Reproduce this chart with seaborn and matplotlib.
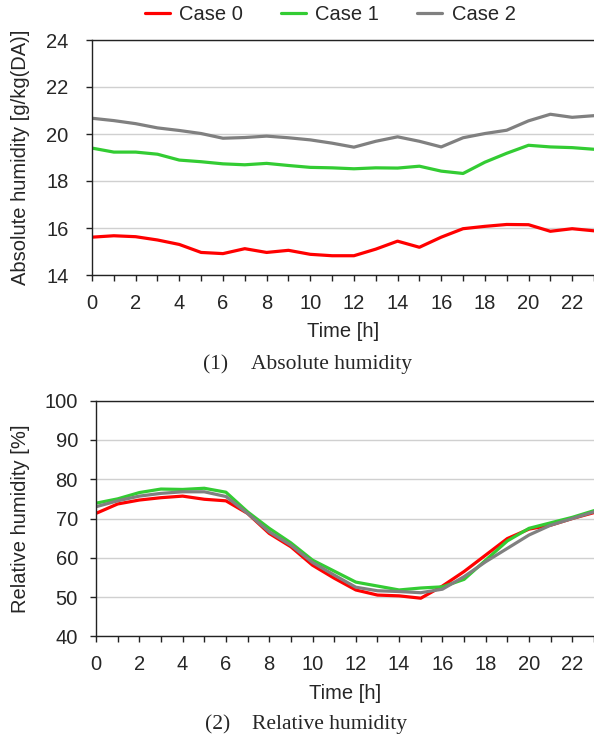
import numpy as np
import pandas as pd
import matplotlib
matplotlib.use("Agg")
import matplotlib.pyplot as plt
import seaborn as sns

hours = list(range(24))
cases = ["Case 0", "Case 1", "Case 2"]
colors = ["#FF0000", "#33CC33", "#808080"]

abs_case0 = [15.61, 15.67, 15.63, 15.49, 15.30, 14.96, 14.91, 15.12, 14.96, 15.05, 14.88, 14.82,
             14.82, 15.10, 15.44, 15.18, 15.61, 15.97, 16.07, 16.15, 16.14, 15.86, 15.97, 15.88]
abs_case1 = [19.40, 19.23, 19.23, 19.14, 18.89, 18.82, 18.73, 18.69, 18.75, 18.66, 18.58, 18.56,
             18.52, 18.56, 18.55, 18.63, 18.42, 18.32, 18.80, 19.18, 19.52, 19.45, 19.42, 19.35]
abs_case2 = [20.67, 20.57, 20.44, 20.26, 20.15, 20.02, 19.82, 19.85, 19.91, 19.84, 19.75, 19.61,
             19.44, 19.69, 19.88, 19.69, 19.45, 19.84, 20.02, 20.16, 20.56, 20.84, 20.71, 20.78]

rh_case0 = [71.3, 73.7, 74.7, 75.3, 75.7, 74.9, 74.5, 71.3, 66.2, 62.8, 58.1, 54.8,
            51.8, 50.5, 50.3, 49.7, 52.8, 56.5, 60.7, 64.9, 67.3, 68.3, 70.0, 71.5]
rh_case1 = [73.9, 75.0, 76.6, 77.5, 77.4, 77.7, 76.7, 71.7, 67.5, 63.8, 59.4, 56.6,
            53.8, 52.8, 51.8, 52.3, 52.6, 54.5, 59.4, 64.3, 67.5, 68.9, 70.3, 72.0]
rh_case2 = [73.0, 74.5, 75.7, 76.4, 76.8, 76.8, 75.6, 71.3, 66.6, 63.2, 58.8, 55.6,
            52.5, 51.6, 51.4, 51.1, 52.0, 55.2, 59.0, 62.4, 65.8, 68.3, 70.0, 71.7]

abs_ticks = [14, 16, 18, 20, 22, 24]
rh_ticks = [40, 50, 60, 70, 80, 90, 100]

sns.set_style("white")
plt.rcParams["font.family"] = ["Liberation Sans", "DejaVu Sans"]

def long_df(series):
    rows = []
    for name, vals in zip(cases, series):
        for h, v in zip(hours, vals):
            rows.append({"Time": h, "Value": v, "Case": name})
    return pd.DataFrame(rows)

df_abs = long_df([abs_case0, abs_case1, abs_case2])
df_rh = long_df([rh_case0, rh_case1, rh_case2])

W, H = 594, 738
fig = plt.figure(figsize=(W / 100, H / 100), dpi=100)
ax1 = fig.add_axes([92 / W, 1 - 275 / H, (W - 92) / W, 235 / H])
ax2 = fig.add_axes([96 / W, 1 - 636.3 / H, (W - 96) / W, 235.6 / H])

FS = 14.5
palette = dict(zip(cases, colors))

def style(ax, df, yticks, ylabel, ypad):
    sns.lineplot(data=df, x="Time", y="Value", hue="Case", palette=palette,
                 linewidth=2.3, ax=ax, legend=False)
    ax.set_xlim(0, 23)
    ax.set_ylim(yticks[0], yticks[-1])
    ax.set_yticks(yticks)
    ax.set_yticklabels([str(t) for t in yticks])
    ax.set_xticks(hours)
    ax.set_xticklabels([str(h) if h % 2 == 0 else "" for h in hours])
    ax.grid(axis="y", color="#D0D0D0", linewidth=1.0)
    ax.grid(axis="x", visible=False)
    for s in ["left", "bottom", "top"]:
        ax.spines[s].set_visible(True)
        ax.spines[s].set_color("#222222")
        ax.spines[s].set_linewidth(1.0)
    ax.spines["right"].set_visible(False)
    ax.tick_params(axis="y", direction="out", length=4, width=1, color="#222222",
                   labelsize=FS, pad=ypad, left=True)
    ax.tick_params(axis="x", direction="out", length=4.5, width=1, color="#222222",
                   labelsize=FS, pad=9, bottom=True)
    ax.set_xlabel("Time [h]", fontsize=FS, labelpad=7)
    ax.set_ylabel(ylabel, fontsize=FS)

style(ax1, df_abs, abs_ticks, "Absolute humidity [g/kg(DA)]", 13)
style(ax2, df_rh, rh_ticks, "Relative humidity [%]", 9)
ax1.yaxis.set_label_coords(30 / W, (1 - 157 / H), transform=fig.transFigure)
ax2.yaxis.set_label_coords(30 / W, (1 - 518.5 / H), transform=fig.transFigure)

handles = ax1.get_lines()[:3]
fig.legend(handles, cases, loc="center", bbox_to_anchor=(330 / W, 1 - 15 / H),
           ncol=3, frameon=False, fontsize=FS, handlelength=1.25, handletextpad=0.45,
           columnspacing=1.9)

serif = ["Liberation Serif", "DejaVu Serif"]
fig.text(203 / W, 1 - 365 / H, "(1)", ha="left", va="center", family=serif, fontsize=15.5)
fig.text(251 / W, 1 - 365 / H, "Absolute humidity", ha="left", va="center", family=serif, fontsize=15.5)
fig.text(205 / W, 1 - 725 / H, "(2)", ha="left", va="center", family=serif, fontsize=15.5)
fig.text(252 / W, 1 - 725 / H, "Relative humidity", ha="left", va="center", family=serif, fontsize=15.5)

fig.savefig("out.png", dpi=100)
